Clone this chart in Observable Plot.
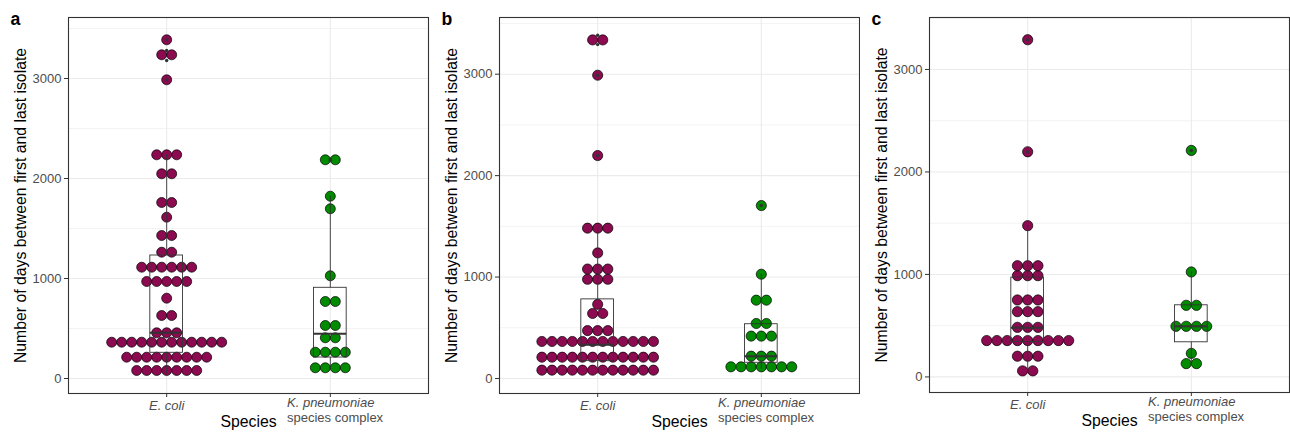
<!DOCTYPE html>
<html><head><meta charset="utf-8">
<script src="https://cdn.jsdelivr.net/npm/d3@7"></script>
<script src="https://cdn.jsdelivr.net/npm/@observablehq/plot@0.6"></script>
<style>
body{margin:0;background:#fff;}
#wrap{position:relative;width:1290px;height:432px;overflow:hidden;}
#wrap svg{position:absolute;top:0;}
</style></head><body><div id="wrap"></div>
<script>
// ---------- shared labels ----------
const species = ["E. coli", "K. pneumoniae"];
const speciesNote = ["", "species complex"];
const yTicks = [0, 1000, 2000, 3000];
const yMinor = [500, 1500, 2500, 3500];
const yTitle = "Number of days between first and last isolate";
const xTitle = "Species";
const speciesColors = ["#8B0A50", "#008B00"];
const binDays = 100; // dotplot bin width (days) = dot diameter

// ---------- panel a ----------
const aEcoliDays  = [80, 213, 363, 457, 630, 803, 970, 1113, 1263, 1430, 1613, 1760, 2047, 2237, 2987, 3237, 3387];
const aEcoliCount = [7, 9, 12, 3, 2, 1, 5, 6, 2, 2, 1, 2, 2, 3, 1, 2, 1];
const aKpDays  = [107, 263, 407, 530, 770, 1027, 1697, 1823, 2187];
const aKpCount = [4, 4, 2, 2, 2, 1, 1, 1, 2];
const aQ1 = [257, 210], aMed = [457, 447], aQ3 = [1230, 907], aLow = [40, 80], aHigh = [2237, 1823];
const aOutEcoli = [2990, 3180, 3280, 3390], aOutKp = [2180, 2195];

// ---------- panel b ----------
const bEcoliDays  = [82, 210, 365, 472, 641, 731, 978, 1079, 1238, 1482, 2198, 2990, 3338];
const bEcoliCount = [12, 12, 12, 3, 2, 1, 3, 3, 1, 3, 1, 1, 2];
const bKpDays  = [115, 220, 418, 542, 772, 1028, 1705];
const bKpCount = [7, 3, 3, 2, 2, 1, 1];
const bQ1 = [171, 155], bMed = [332, 220], bQ3 = [780, 535], bLow = [45, 90], bHigh = [1482, 1028];
const bOutEcoli = [2198, 2990, 3292, 3384], bOutKp = [1705];

// ---------- panel c ----------
const cEcoliDays  = [59, 202, 355, 484, 637, 751, 988, 1085, 1476, 2197, 3290];
const cEcoliCount = [2, 3, 9, 3, 3, 3, 3, 3, 1, 1, 1];
const cKpDays  = [130, 230, 494, 699, 1024, 2210];
const cKpCount = [2, 1, 4, 2, 1, 1];
const cQ1 = [341, 338], cMed = [480, 494], cQ3 = [969, 699], cLow = [40, 110], cHigh = [1476, 1024];
const cOutEcoli = [2197, 3290], cOutKp = [2210];

const FONT = "'Liberation Sans', Arial, Helvetica, sans-serif";

function panel(cfg) {
  const width = 430, height = 432, marginTop = 17;
  const {letter, left, marginLeft, marginRight, marginBottom, yDomain, rows, q1, med, q3, lo, hi, outs} = cfg;
  const xDomain = [0.4, 2.6];
  const plotH = height - marginTop - marginBottom;
  const plotW = width - marginLeft - marginRight;
  const dPx = binDays * plotH / (yDomain[1] - yDomain[0]);
  const step = dPx / (plotW / (xDomain[1] - xDomain[0]));
  const dots = [];
  rows.forEach(([days, counts], ci) => {
    days.forEach((d, k) => {
      const n = counts[k];
      for (let i = 0; i < n; i++) dots.push({x: ci + 1 + (i - (n - 1) / 2) * step, y: d, s: species[ci]});
    });
  });
  const box = species.map((s, i) => ({x: i + 1, q1: q1[i], med: med[i], q3: q3[i], lo: lo[i], hi: hi[i]}));
  const outliers = [];
  outs.forEach((arr, ci) => arr.forEach(v => outliers.push({x: ci + 1, y: v})));
  const labels = species.map((s, i) => ({x: i + 1, s, note: speciesNote[i]}));
  const boxStroke = "#333333";
  const svg = Plot.plot({
    width, height, marginTop, marginBottom, marginLeft, marginRight,
    style: {fontFamily: FONT, fontSize: "13px", background: "white", color: "#4d4d4d", overflow: "visible"},
    x: {domain: xDomain, axis: null},
    y: {domain: yDomain, axis: null},
    color: {domain: species, range: speciesColors},
    marks: [
      Plot.gridY(yMinor, {stroke: "#ebebeb", strokeOpacity: 1, strokeWidth: 0.6}),
      Plot.gridY(yTicks, {stroke: "#ebebeb", strokeOpacity: 1, strokeWidth: 1.1}),
      Plot.gridX([1, 2], {stroke: "#ebebeb", strokeOpacity: 1, strokeWidth: 1.1}),
      Plot.dot(dots, {x: "x", y: "y", r: dPx / 2, fill: "s", stroke: "black", strokeWidth: 0.7}),
      Plot.ruleX(box, {x: "x", y1: "q3", y2: "hi", stroke: boxStroke, strokeWidth: 0.9}),
      Plot.ruleX(box, {x: "x", y1: "lo", y2: "q1", stroke: boxStroke, strokeWidth: 0.9}),
      Plot.rect(box, {x1: d => d.x - 0.1, x2: d => d.x + 0.1, y1: "q1", y2: "q3", fill: "none", stroke: boxStroke, strokeWidth: 0.9}),
      Plot.ruleY(box, {y: "med", x1: d => d.x - 0.1, x2: d => d.x + 0.1, stroke: boxStroke, strokeWidth: 2}),
      Plot.dot(outliers, {x: "x", y: "y", r: 1.7, fill: "#333333", stroke: null}),
      Plot.frame({stroke: "#333333", strokeWidth: 1.1}),
      Plot.axisY(yTicks, {tickSize: 4, tickPadding: 3, fontSize: 13, tickFormat: d => String(d), stroke: "#333333", fill: "#4d4d4d", label: null}),
      Plot.axisX([1, 2], {tickSize: 4, tickFormat: () => "", stroke: "#333333", label: null}),
      Plot.text(labels.filter(d => !d.note), {x: "x", text: "s", frameAnchor: "bottom", lineAnchor: "middle", dy: 12, fontStyle: "italic", fontSize: 13, fill: "#4d4d4d"}),
      Plot.text(labels.filter(d => d.note), {x: "x", text: "s", frameAnchor: "bottom", lineAnchor: "middle", dy: 9.3, dx: -43.3, textAnchor: "start", fontStyle: "italic", fontSize: 13, fill: "#4d4d4d"}),
      Plot.text(labels.filter(d => d.note), {x: "x", text: "note", frameAnchor: "bottom", lineAnchor: "middle", dy: 24.3, dx: -43.3, textAnchor: "start", fontSize: 13, fill: "#4d4d4d"}),
      Plot.text([xTitle], {text: d => d, frameAnchor: "bottom", lineAnchor: "middle", textAnchor: "middle", dy: 28.7, fontSize: 15.8, fill: "black"}),
      Plot.text([yTitle], {text: d => d, frameAnchor: "left", lineAnchor: "middle", textAnchor: "middle", rotate: -90, dx: -48, fontSize: 15.8, fill: "black"}),
      Plot.text([letter], {text: d => d, frameAnchor: "top-left", lineAnchor: "middle", dx: -58, dy: 1.5, textAnchor: "start", fontWeight: "bold", fontSize: 17.6, fill: "black"})
    ]
  });
  svg.style.left = left + "px";
  document.getElementById("wrap").appendChild(svg);
}

panel({letter: "a", left: 0, marginLeft: 68, marginRight: 2, marginBottom: 39, yDomain: [-150, 3610],
  rows: [[aEcoliDays, aEcoliCount], [aKpDays, aKpCount]], q1: aQ1, med: aMed, q3: aQ3, lo: aLow, hi: aHigh, outs: [aOutEcoli, aOutKp]});
panel({letter: "b", left: 430, marginLeft: 69, marginRight: 1, marginBottom: 39, yDomain: [-148, 3559],
  rows: [[bEcoliDays, bEcoliCount], [bKpDays, bKpCount]], q1: bQ1, med: bMed, q3: bQ3, lo: bLow, hi: bHigh, outs: [bOutEcoli, bOutKp]});
panel({letter: "c", left: 860, marginLeft: 69, marginRight: 1, marginBottom: 40, yDomain: [-152, 3507],
  rows: [[cEcoliDays, cEcoliCount], [cKpDays, cKpCount]], q1: cQ1, med: cMed, q3: cQ3, lo: cLow, hi: cHigh, outs: [cOutEcoli, cOutKp]});
</script>
</body></html>
